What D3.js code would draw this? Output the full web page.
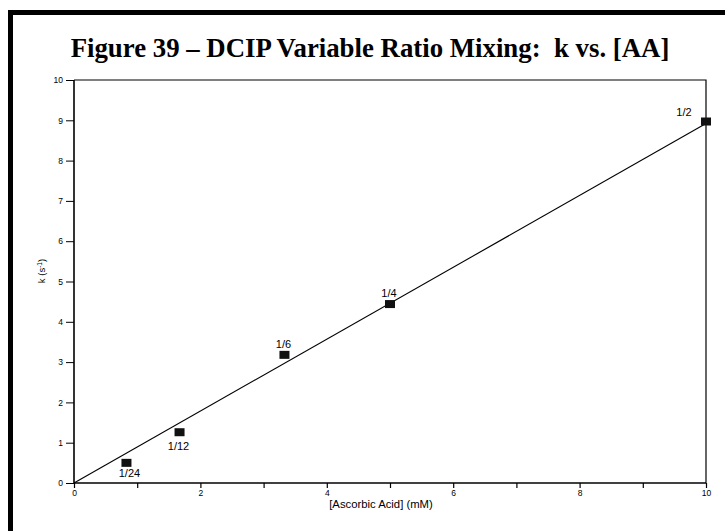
<!DOCTYPE html>
<html>
<head>
<meta charset="utf-8">
<script src="https://cdn.jsdelivr.net/npm/d3@7"></script>
<style>
  html, body { margin: 0; padding: 0; background: #fff; }
  svg { display: block; }
</style>
</head>
<body>
<script>
// ---- data ----
const ratioLabels = ["1/24", "1/12", "1/6", "1/4", "1/2"];
const ascorbicAcid = [0.83, 1.67, 3.33, 5.0, 10.0];
const kValues = [0.50, 1.26, 3.18, 4.44, 8.97];
const labelSide = ["below", "below", "above", "above", "left"];
const fitX = [0, 10];
const fitY = [0, 8.92];
const xTicks = [0, 1, 2, 3, 4, 5, 6, 7, 8, 9, 10];
const yTicks = [0, 1, 2, 3, 4, 5, 6, 7, 8, 9, 10];
const titleText = "Figure 39 \u2013 DCIP Variable Ratio Mixing:\u00a0\u00a0k vs. [AA]";
const xLabelText = "[Ascorbic Acid] (mM)";

const W = 725, H = 531;
const svg = d3.select("body").append("svg").attr("width", W).attr("height", H);
svg.append("rect").attr("width", W).attr("height", H).attr("fill", "#fff");

// outer frame (extends past the right/bottom edges)
svg.append("rect")
  .attr("x", 10.5).attr("y", 12.5)
  .attr("width", 800).attr("height", 600)
  .attr("fill", "none").attr("stroke", "#000").attr("stroke-width", 5);

// title
svg.append("text")
  .attr("x", 370).attr("y", 57)
  .attr("text-anchor", "middle")
  .attr("font-family", "'Liberation Serif', 'Times New Roman', serif")
  .attr("font-weight", "bold")
  .attr("font-size", 26.8)
  .text(titleText);

const x = d3.scaleLinear().domain([0, 10]).range([74, 706]);
const y = d3.scaleLinear().domain([0, 10]).range([483, 80]);

// plot frame top/right
svg.append("path")
  .attr("d", `M${x(0)},${y(10)}H${x(10)}V${y(0)}`)
  .attr("fill", "none").attr("stroke", "#000").attr("stroke-width", 1.2);

const fontFam = "'Liberation Sans', Arial, sans-serif";

// x axis
const xAxis = d3.axisBottom(x).tickValues(xTicks).tickSize(5).tickPadding(2)
  .tickFormat(d => d % 2 === 0 ? d3.format("d")(d) : "");
const gx = svg.append("g").attr("transform", `translate(0,${y(0)})`).call(xAxis);
gx.select(".domain").attr("stroke-width", 1.6).attr("d", `M${x(0)},0H${x(10)}`);
gx.selectAll(".tick line").attr("stroke-width", 1.2);
gx.selectAll("text").attr("font-family", fontFam).attr("font-size", 8.5).attr("fill", "#000");

// y axis
const yAxis = d3.axisLeft(y).tickValues(yTicks).tickSize(8).tickPadding(3).tickFormat(d3.format("d"));
const gy = svg.append("g").attr("transform", `translate(${x(0)},0)`).call(yAxis);
gy.select(".domain").attr("stroke-width", 1.6).attr("d", `M0,${y(0)}V${y(10)}`);
gy.selectAll(".tick line").attr("stroke-width", 1);
gy.selectAll("text").attr("font-family", fontFam).attr("font-size", 8.5).attr("fill", "#000");

// axis labels
svg.append("text")
  .attr("x", 381).attr("y", 508)
  .attr("text-anchor", "middle")
  .attr("font-family", fontFam).attr("font-size", 11.3)
  .text(xLabelText);

const yl = svg.append("text")
  .attr("transform", "translate(45,271) rotate(-90)")
  .attr("text-anchor", "middle")
  .attr("font-family", fontFam).attr("font-size", 9.5);
yl.append("tspan").text("k (s");
yl.append("tspan").attr("dy", -3.5).attr("font-size", 6.5).text("-1");
yl.append("tspan").attr("dy", 3.5).text(")");

// fit line
const line = d3.line().x((d, i) => x(fitX[i])).y((d, i) => y(fitY[i]));
svg.append("path")
  .attr("d", line(fitX))
  .attr("fill", "none").attr("stroke", "#000").attr("stroke-width", 1.1);

// markers
const pts = ascorbicAcid.map((a, i) => ({ a, k: kValues[i], label: ratioLabels[i], side: labelSide[i] }));
svg.selectAll("rect.pt").data(pts).enter().append("rect")
  .attr("class", "pt")
  .attr("x", d => x(d.a) - 5).attr("y", d => y(d.k) - 4)
  .attr("width", 10).attr("height", 8)
  .attr("fill", "#111");

// point labels
svg.selectAll("text.pl").data(pts).enter().append("text")
  .attr("class", "pl")
  .attr("font-family", fontFam).attr("font-size", 11)
  .attr("text-anchor", "middle")
  .attr("x", d => x(d.a) + (d.side === "left" ? -22 : (d.label === "1/24" ? 3 : -1)))
  .attr("y", d => y(d.k) + (d.side === "above" ? -7 : d.side === "left" ? -6 : (d.label === "1/24" ? 14 : 18)))
  .text(d => d.label);
</script>
</body>
</html>
